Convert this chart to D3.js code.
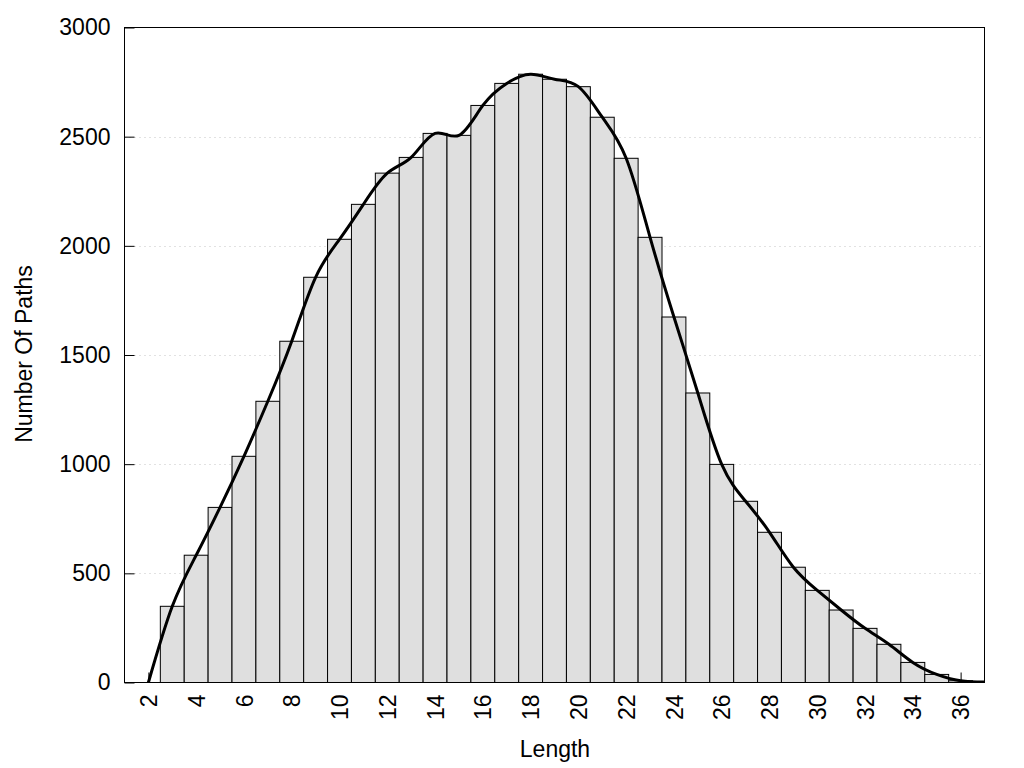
<!DOCTYPE html>
<html>
<head>
<meta charset="utf-8">
<script src="https://cdn.jsdelivr.net/npm/d3@7"></script>
<style>
  html, body { margin: 0; padding: 0; background: #fff; }
  text { font-family: "Liberation Sans", Arial, sans-serif; }
</style>
</head>
<body>
<svg id="chart" width="1024" height="768"></svg>
<script>
// ---- data ----
const lengths = [2,3,4,5,6,7,8,9,10,11,12,13,14,15,16,17,18,19,20,21,22,23,24,25,26,27,28,29,30,31,32,33,34,35,36,37];
const counts  = [0,349,583,802,1036,1288,1563,1856,2030,2190,2333,2405,2515,2506,2643,2744,2786,2763,2729,2589,2401,2039,1674,1326,999,830,688,528,422,332,248,175,92,37,8,2];
const xTicks = [2,4,6,8,10,12,14,16,18,20,22,24,26,28,30,32,34,36];
const yTicks = [0,500,1000,1500,2000,2500,3000];
const xTitle = "Length";
const yTitle = "Number Of Paths";

const svg = d3.select("#chart");
const pL = 124.5, pR = 984.5, pT = 27.5, pB = 682.5;
const FS = 23;

const x = d3.scaleLinear().domain([1, 37]).range([pL, pR]);
const y = d3.scaleLinear().domain([0, 3000]).range([pB, pT]);

svg.append("defs").append("clipPath").attr("id", "clip")
  .append("rect").attr("x", pL).attr("y", pT).attr("width", pR - pL).attr("height", pB - pT);

// grid
svg.append("g").selectAll("line").data(yTicks.filter(d => d > 0 && d < 3000)).join("line")
  .attr("x1", pL).attr("x2", pR)
  .attr("y1", d => Math.round(y(d)) + 0.5).attr("y2", d => Math.round(y(d)) + 0.5)
  .attr("stroke", "#c4c4c4").attr("stroke-width", 1).attr("stroke-dasharray", "1,4");

// y axis (ticks inward)
const yAxis = d3.axisLeft(y).tickValues(yTicks).tickFormat(d3.format("d"))
  .tickSizeInner(-10).tickSizeOuter(0).tickPadding(14);
const gy = svg.append("g").attr("transform", `translate(${pL},0)`).call(yAxis);
gy.select(".domain").remove();
gy.selectAll("line").attr("stroke", "#000");
gy.selectAll("text").attr("font-size", FS).attr("fill", "#000")
  .attr("font-family", "'Liberation Sans', Arial, sans-serif");

// x axis (ticks inward, rotated labels)
const xAxis = d3.axisBottom(x).tickValues(xTicks).tickFormat(d3.format("d"))
  .tickSizeInner(-10).tickSizeOuter(0).tickPadding(0);
const gx = svg.append("g").attr("transform", `translate(0,${pB})`).call(xAxis);
gx.select(".domain").remove();
gx.selectAll("line").attr("stroke", "#000");
gx.selectAll("text")
  .attr("font-size", FS).attr("fill", "#000")
  .attr("font-family", "'Liberation Sans', Arial, sans-serif")
  .attr("transform", "rotate(-90)")
  .attr("text-anchor", "end")
  .attr("x", -12).attr("y", 0).attr("dy", "0.35em");

// bars
const bw = x(1) - x(0);
const data = lengths.map((l, i) => ({ l, v: counts[i] }));
svg.append("g").attr("clip-path", "url(#clip)").selectAll("rect")
  .data(data.filter(d => d.v > 0)).join("rect")
  .attr("x", d => x(d.l) - bw / 2)
  .attr("y", d => y(d.v))
  .attr("width", bw)
  .attr("height", d => y(0) - y(d.v))
  .attr("fill", "#dfdfdf").attr("stroke", "#000").attr("stroke-width", 1);

// smooth curve
const line = d3.line().x(d => x(d.l)).y(d => y(d.v)).curve(d3.curveNatural);
svg.append("path").datum(data).attr("clip-path", "url(#clip)")
  .attr("d", line).attr("fill", "none").attr("stroke", "#000").attr("stroke-width", 3)
  .attr("stroke-linejoin", "round");

// border
svg.append("rect").attr("x", pL).attr("y", pT).attr("width", pR - pL).attr("height", pB - pT)
  .attr("fill", "none").attr("stroke", "#000").attr("stroke-width", 1);

// titles
svg.append("text").attr("x", 555).attr("y", 757).attr("text-anchor", "middle")
  .attr("font-size", FS).attr("fill", "#000").text(xTitle);
svg.append("text").attr("transform", "translate(32,354) rotate(-90)").attr("text-anchor", "middle")
  .attr("font-size", FS).attr("fill", "#000").text(yTitle);
</script>
</body>
</html>
